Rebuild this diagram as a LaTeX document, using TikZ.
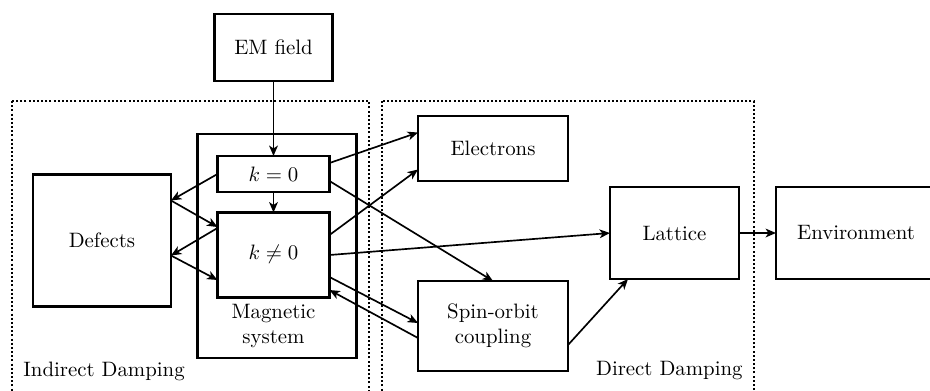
\documentclass[tikz,border=0pt]{standalone}
\usetikzlibrary{arrows.meta,calc}
\begin{document}
\begin{tikzpicture}[x=0.48pt,y=-0.48pt,
  box/.style={draw,line width=1.2pt,inner sep=0pt,outer sep=0pt,align=center},
  conn/.style={line width=0.8pt,-{Stealth[length=5pt,width=4.2pt,inset=1.4pt]}},
  zone/.style={line width=1pt,densely dotted}]
\clip (0,0) rectangle (930,390);
\useasboundingbox (0,0) rectangle (930,390);
% zones
\draw[zone] (12,101) rectangle (369,420);
\draw[zone] (382,101) rectangle (754,420);
\node[anchor=base west,inner sep=0pt] (indirect) at (23,376) {Indirect Damping};
\node[anchor=base east,inner sep=0pt] (direct) at (743,375) {Direct Damping};
% nodes
\node[box,minimum width=118*0.48pt,minimum height=67*0.48pt] (em) at (273.5,47.5) {EM field};
\node[box,minimum width=159*0.48pt,minimum height=224*0.48pt] (mag) at (277,246) {};
\node[align=center,inner sep=0pt] (magtxt) at (273.5,326) {Magnetic\\system};
\node[box,minimum width=112*0.48pt,minimum height=36*0.48pt] (k0) at (273.5,174) {$k=0$};
\node[box,minimum width=112*0.48pt,minimum height=85*0.48pt] (kn) at (273.5,255) {\raisebox{3pt}{$k\neq 0$}};
\node[box,minimum width=138*0.48pt,minimum height=132*0.48pt] (def) at (102,240.5) {Defects};
\node[box,minimum width=150*0.48pt,minimum height=65*0.48pt] (el) at (493,148.5) {Electrons};
\node[box,minimum width=150*0.48pt,minimum height=90*0.48pt] (spin) at (493,326) {Spin-orbit\\coupling};
\node[box,minimum width=129*0.48pt,minimum height=92*0.48pt] (lat) at (674.5,233) {Lattice};
\node[box,minimum width=160*0.48pt,minimum height=92*0.48pt] (env) at (856,233) {Environment};
% connectors
\draw[conn] (em.south) -- (k0.north);
\draw[conn] (k0.south) -- (kn.north);
\draw[conn] (k0.west) -- ($(def.east)+(0,-40)$);
\draw[conn] ($(def.east)+(0,-40)$) -- ($(kn.west)+(0,-28)$);
\draw[conn] ($(kn.west)+(0,-27)$) -- ($(def.east)+(0,15)$);
\draw[conn] ($(def.east)+(0,15)$) -- ($(kn.west)+(0,25)$);
\draw[conn] ($(k0.east)+(0,-11)$) -- ($(el.west)+(0,-16)$);
\draw[conn] ($(k0.east)+(0,7)$) -- (spin.north);
\draw[conn] ($(kn.east)+(0,-20)$) -- ($(el.west)+(0,21)$);
\draw[conn] (kn.east) -- (lat.west);
\draw[conn] ($(kn.east)+(0,22)$) -- ($(spin.west)+(0,-3)$);
\draw[conn] ($(spin.west)+(0,12)$) -- ($(kn.east)+(0,35)$);
\draw[conn] ($(spin.east)+(0,19)$) -- ($(lat.south west)+(18,0)$);
\draw[conn] (lat.east) -- (env.west);
\end{tikzpicture}
\end{document}
